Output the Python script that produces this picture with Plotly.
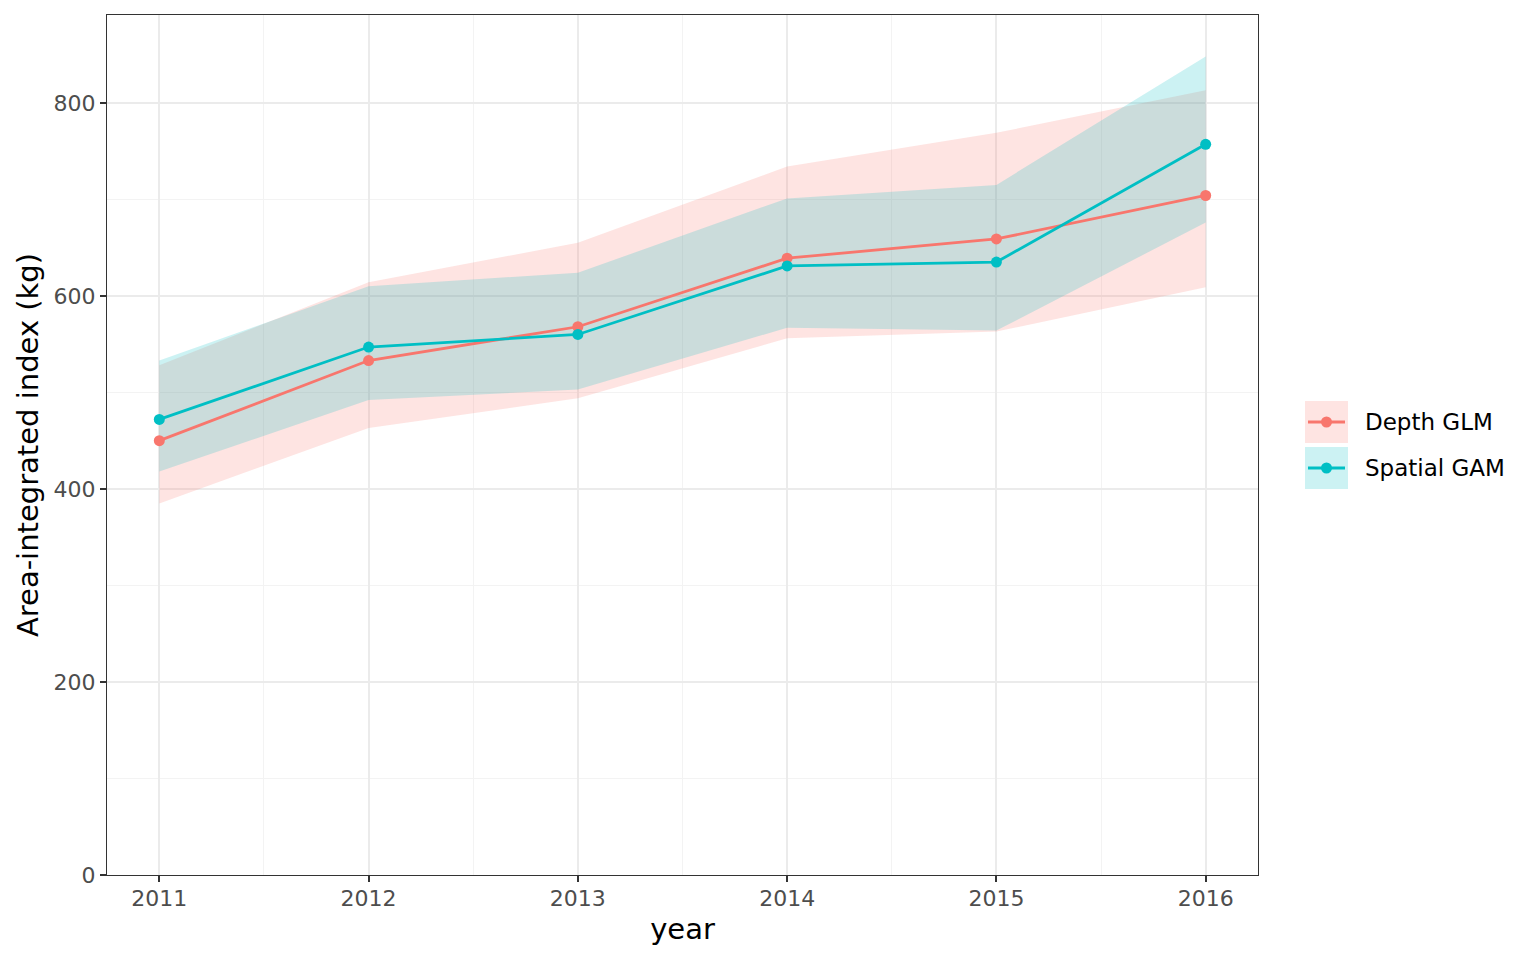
import plotly.graph_objects as go

years = [2011, 2012, 2013, 2014, 2015, 2016]

glm_est = [450, 533, 568, 639, 659, 704]
glm_lwr = [385, 463, 494, 556, 563, 609]
glm_upr = [528, 614, 655, 734, 769, 813]

gam_est = [472, 547, 560, 631, 635, 757]
gam_lwr = [418, 492, 503, 567, 564, 676]
gam_upr = [533, 610, 624, 701, 715, 848]

models = ["Depth GLM", "Spatial GAM"]
colors = ["#F8766D", "#00BFC4"]
fills = ["rgba(248,118,109,0.2)", "rgba(0,191,196,0.2)"]
series = [(glm_est, glm_lwr, glm_upr), (gam_est, gam_lwr, gam_upr)]

fig = go.Figure()

# ribbons first
for (est, lwr, upr), fc in zip(series, fills):
    fig.add_trace(go.Scatter(x=years, y=lwr, mode="lines", line=dict(width=0),
                             showlegend=False, hoverinfo="skip"))
    fig.add_trace(go.Scatter(x=years, y=upr, mode="lines", line=dict(width=0),
                             fill="tonexty", fillcolor=fc, showlegend=False, hoverinfo="skip"))

for (est, lwr, upr), c, name in zip(series, colors, models):
    fig.add_trace(go.Scatter(x=years, y=est, mode="lines", line=dict(color=c, width=2.8),
                             showlegend=False, name=name))
for (est, lwr, upr), c, name in zip(series, colors, models):
    fig.add_trace(go.Scatter(x=years, y=est, mode="markers", marker=dict(color=c, size=11),
                             showlegend=False, name=name))

# page has an 8px body margin, so work in page pixels and shift
OFF = 8
W, H = 1536, 960
L, R, T, B = 107 - OFF, 278 + OFF, 15 - OFF, 85 + OFF
pw, ph = W - L - R, H - T - B

def px(x):
    return (x - OFF - L) / pw

def py(y):
    return (H - B - (y - OFF)) / ph

# hand drawn legend keys, ggplot style
shapes = []
annotations = []
for i, (name, c, fc) in enumerate(zip(models, colors, fills)):
    top = 401 + i * 46
    cy = top + 21
    shapes.append(dict(type="rect", xref="paper", yref="paper", x0=px(1305), x1=px(1348),
                       y0=py(top + 42), y1=py(top), fillcolor=fc, line=dict(width=0), layer="above"))
    shapes.append(dict(type="line", xref="paper", yref="paper", x0=px(1308), x1=px(1345),
                       y0=py(cy), y1=py(cy), line=dict(color=c, width=2.8)))
    shapes.append(dict(type="circle", xref="paper", yref="paper", x0=px(1321), x1=px(1332),
                       y0=py(cy + 5.5), y1=py(cy - 5.5), fillcolor=c, line=dict(width=0)))
    annotations.append(dict(text=name, xref="paper", yref="paper", x=px(1363), y=py(cy),
                            xanchor="left", yanchor="middle", showarrow=False,
                            font=dict(size=23, color="black")))

fig.update_layout(
    width=W, height=H,
    margin=dict(l=L, r=R, t=T, b=B),
    plot_bgcolor="white", paper_bgcolor="white",
    font=dict(family="DejaVu Sans", color="#4D4D4D"),
    showlegend=False,
    shapes=shapes,
    annotations=annotations,
    xaxis=dict(
        range=[2010.75, 2016.25], tickvals=years, ticktext=[str(y) for y in years],
        showgrid=True, gridcolor="#EBEBEB", gridwidth=2,
        minor=dict(dtick=0.5, tick0=2011, showgrid=True, gridcolor="#F3F3F3", gridwidth=1),
        showline=True, mirror=True, linecolor="#333333", linewidth=1.2,
        ticks="outside", ticklen=6, tickwidth=2, tickcolor="#333333",
        tickfont=dict(size=22, color="#4D4D4D"), ticklabelstandoff=-3,
        title=dict(text="year", font=dict(size=29, color="black"), standoff=9),
        zeroline=False,
    ),
    yaxis=dict(
        range=[0, 891], tickvals=[0, 200, 400, 600, 800],
        showgrid=True, gridcolor="#EBEBEB", gridwidth=2,
        minor=dict(dtick=100, tick0=0, showgrid=True, gridcolor="#F3F3F3", gridwidth=1),
        showline=True, mirror=True, linecolor="#333333", linewidth=1.2,
        ticks="outside", ticklen=6, tickwidth=2, tickcolor="#333333",
        tickfont=dict(size=22, color="#4D4D4D"),
        title=dict(text="Area-integrated index (kg)", font=dict(size=29, color="black"), standoff=6),
        zeroline=False,
    ),
)

fig.write_html("out.html")
